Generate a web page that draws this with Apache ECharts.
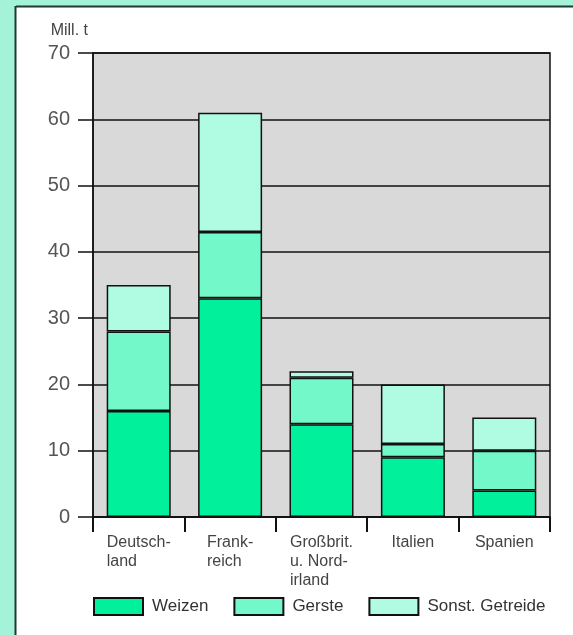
<!DOCTYPE html>
<html><head><meta charset="utf-8">
<script src="https://cdn.jsdelivr.net/npm/echarts@6/dist/echarts.min.js"></script>
<style>html,body{margin:0;padding:0;background:#a4f3d8;}#c{width:573px;height:635px;}</style>
</head><body><div id="c"></div>
<script>
const categories = ['Deutsch-\nland', 'Frank-\nreich', 'Großbrit.\nu. Nord-\nirland', 'Italien', 'Spanien'];
const weizen = [16, 33, 14, 9, 4];
const gerste = [12, 10, 7, 2, 6];
const sonstGetreide = [7, 18, 1, 9, 5];
const seriesNames = ['Weizen', 'Gerste', 'Sonst. Getreide'];
const yTicks = [0, 10, 20, 30, 40, 50, 60, 70];

const colors = ['#00f09c', '#72f8c9', '#b0fce2'];
const font = 'Liberation Sans, Arial, sans-serif';
const chart = echarts.init(document.getElementById('c'), null, {renderer: 'canvas'});
const dataSets = [weizen, gerste, sonstGetreide];
chart.setOption({
  backgroundColor: '#a4f3d8',
  animation: false,
  graphic: [
    {type: 'rect', z: -10, shape: {x: 16, y: 7, width: 560, height: 632}, style: {fill: '#ffffff'}},
    {type: 'line', z: -9, shape: {x1: 16, y1: 6.5, x2: 573, y2: 6.5}, style: {stroke: '#1f3a30', lineWidth: 2}},
    {type: 'line', z: -9, shape: {x1: 15.5, y1: 6, x2: 15.5, y2: 635}, style: {stroke: '#1f3a30', lineWidth: 2}}
  ],
  grid: {left: 93, right: 23, top: 53, bottom: 118, show: true, backgroundColor: '#d9d9d9', borderColor: '#111', borderWidth: 1.5},
  legend: {
    bottom: 14, left: 88, itemWidth: 49, itemHeight: 17, itemGap: 25, icon: 'rect',
    textStyle: {fontFamily: font, fontSize: 17, color: '#333', padding: [0, 0, 0, 4]},
    data: seriesNames.map((n, i) => ({name: n, itemStyle: {color: colors[i], borderColor: '#111', borderWidth: 2}}))
  },
  xAxis: {
    type: 'category', data: categories,
    axisLine: {show: true, lineStyle: {color: '#111', width: 1.5}},
    axisTick: {show: true, length: 15, alignWithLabel: false, lineStyle: {color: '#111', width: 2}},
    axisLabel: {
      margin: 16, interval: 0, color: '#444', fontFamily: font, fontSize: 16, lineHeight: 19,
      formatter: v => v.split('\n').map(l => '{l|' + l + '}').join('\n'),
      rich: {l: {align: 'left', fontFamily: font, fontSize: 16, lineHeight: 19, color: '#444'}}
    }
  },
  yAxis: {
    type: 'value', min: yTicks[0], max: yTicks[yTicks.length - 1], interval: 10,
    name: 'Mill. t', nameLocation: 'end', nameGap: 14,
    nameTextStyle: {fontFamily: font, fontSize: 16, color: '#444', align: 'right', padding: [0, 5, 0, 0]},
    axisLine: {show: true, lineStyle: {color: '#111', width: 1.5}},
    axisTick: {show: true, length: 15, lineStyle: {color: '#111', width: 1.5}},
    axisLabel: {margin: 23, color: '#555', fontFamily: font, fontSize: 20},
    splitLine: {show: true, lineStyle: {color: '#111', width: 1.5}}
  },
  series: dataSets.map((d, i) => ({
    name: seriesNames[i], type: 'bar', stack: 'total', barWidth: 64, data: d,
    itemStyle: {color: colors[i], borderColor: '#111', borderWidth: 1.5}
  }))
});
</script></body></html>
